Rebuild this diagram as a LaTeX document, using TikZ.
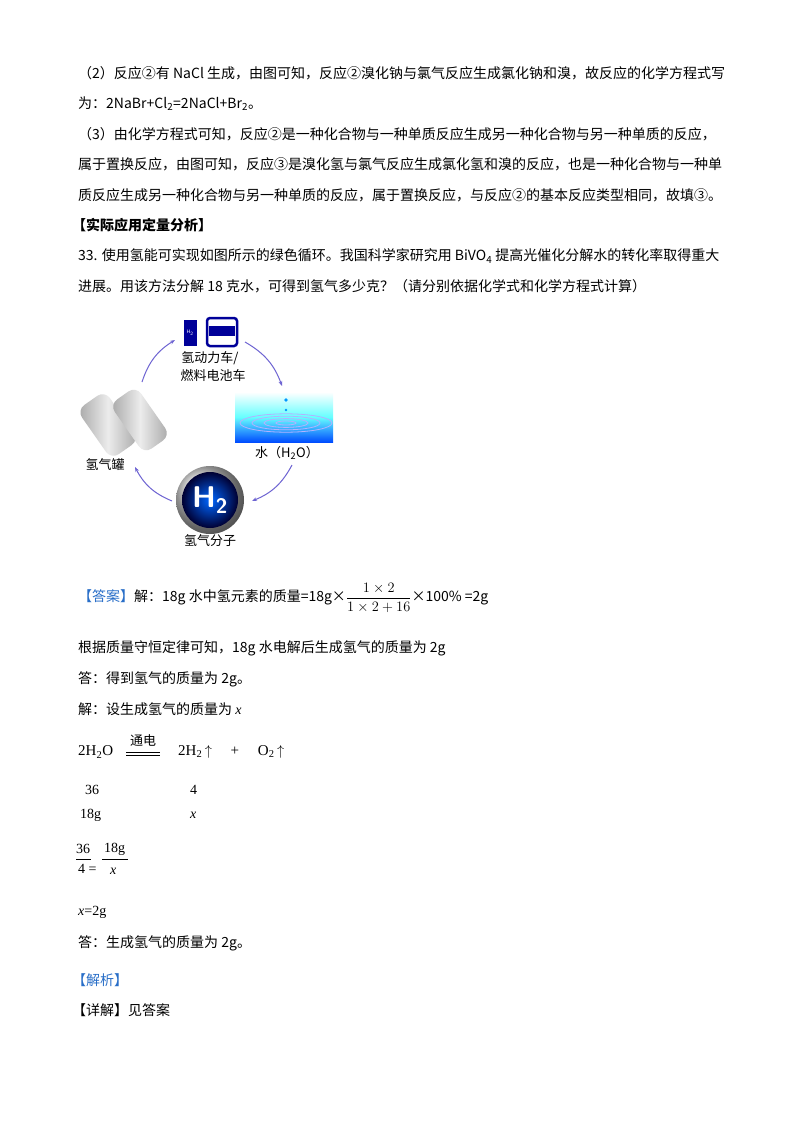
\documentclass[tikz,border=0pt]{standalone}
\usepackage{fontspec}
\setmainfont{Liberation Serif}
\newfontfamily\cjk{Noto Sans CJK SC}
\newfontfamily\cjks{Noto Sans CJK SC}
\usetikzlibrary{arrows.meta}
\definecolor{ansblue}{RGB}{40,110,200}
\definecolor{arc}{RGB}{110,100,210}
\tikzset{
 line/.style={anchor=west,inner sep=0pt,font=\fontsize{14}{14}\selectfont\cjk},
 lbl/.style={inner sep=0pt,font=\fontsize{13}{13}\selectfont\cjks},
 cyc/.style={draw=arc,line width=1pt,-{Stealth[length=5pt]}},
}
\begin{document}
\begin{tikzpicture}[x=1pt,y=-1pt]
\useasboundingbox (0,0) rectangle (800,1132);
\fill[white] (0,0) rectangle (800,1132);
\node[line] (l1) at (78,73) {（2）反应②有 NaCl 生成，由图可知，反应②溴化钠与氯气反应生成氯化钠和溴，故反应的化学方程式写};
\node[line] (l2) at (78,104) {为：2NaBr+Cl\textsubscript{2}=2NaCl+Br\textsubscript{2}。};
\node[line] (l3) at (78,134) {（3）由化学方程式可知，反应②是一种化合物与一种单质反应生成另一种化合物与另一种单质的反应，};
\node[line] (l4) at (78,164) {属于置换反应，由图可知，反应③是溴化氢与氯气反应生成氯化氢和溴的反应，也是一种化合物与一种单};
\node[line] (l5) at (78,195) {质反应生成另一种化合物与另一种单质的反应，属于置换反应，与反应②的基本反应类型相同，故填③。};
\node[line,font=\fontsize{14}{14}\selectfont\cjk\bfseries] (h) at (72,225) {【实际应用定量分析】};
\node[line] (q1) at (78,256) {33. 使用氢能可实现如图所示的绿色循环。我国科学家研究用 BiVO\textsubscript{4} 提高光催化分解水的转化率取得重大};
\node[line] (q2) at (78,286) {进展。用该方法分解 18 克水，可得到氢气多少克？（请分别依据化学式和化学方程式计算）};
% figure
\node[fill=blue!60!black,minimum width=13pt,minimum height=26pt,inner sep=0pt,text=white,font=\tiny\sffamily] (pump) at (190,333) {H\textsubscript{2}};
\node[draw=blue!60!black,fill=white,line width=2.5pt,rounded corners=3pt,minimum width=30pt,minimum height=28pt] (bus) at (222,332) {};
\fill[blue!60!black] (209,326) rectangle (235,336);
\node[lbl] (t1) at (210,358) {氢动力车/};
\node[lbl] (t2) at (213,376) {燃料电池车};
\shade[top color=white,bottom color=blue!70!cyan,middle color=cyan!60] (235,392) rectangle (333,442);
\node[inner sep=0pt,minimum width=98pt,minimum height=50pt] (water) at (284,417) {};
\foreach \r in {10,22,34,46}{\draw[white!70!blue,line width=0.8pt] (286,423) ellipse [x radius=\r, y radius=\r/5];}
\fill[blue!40!cyan] (286,400) circle (1.8pt) (286,410) circle (1.4pt);
\node[lbl] (t3) at (287,453) {水（H\textsubscript{2}O）};
\shade[left color=gray!70,right color=gray!70,middle color=gray!15,rounded corners=9pt,rotate around={35:(108,425)}] (91,395) rectangle (125,455);
\shade[left color=gray!70,right color=gray!70,middle color=gray!15,rounded corners=9pt,rotate around={35:(140,420)}] (124,390) rectangle (156,450);
\node[inner sep=0pt,minimum width=80pt,minimum height=60pt] (tank) at (125,422) {};
\node[lbl] (t4) at (105,465) {氢气罐};
\shade[ball color=gray!40] (210,500) circle (34pt);
\shade[inner color=blue!60!cyan,outer color=black!80!blue] (210,500) circle (28pt);
\node[text=white,font=\fontsize{30}{30}\selectfont\sffamily\bfseries,inner sep=0pt] (h2) at (210,500) {H\textsubscript{2}};
\node[lbl] (t5) at (210,541) {氢气分子};
\draw[cyc] (142,382) to[bend left=20] (175,340);
\draw[cyc] (245,342) to[bend left=20] (282,386);
\draw[cyc] (292,465) to[bend left=20] (252,501);
\draw[cyc] (172,501) to[bend left=20] (135,467);
% answer
\node[line] (a1) at (78,598) {\textcolor{ansblue}{【答案】}解：18g 水中氢元素的质量=18g×$\displaystyle\frac{1\times2}{1\times2+16}$×100\% =2g};
\node[line] (a2) at (78,648) {根据质量守恒定律可知，18g 水电解后生成氢气的质量为 2g};
\node[line] (a3) at (78,679) {答：得到氢气的质量为 2g。};
\node[line] (a4) at (78,709) {解：设生成氢气的质量为 {\rmfamily\itshape x}};
\node[line,font=\fontsize{15}{15}\selectfont\rmfamily] (e1) at (78,752) {2H\textsubscript{2}O};
\node[inner sep=0pt,font=\fontsize{13}{13}\selectfont\cjk] (e2) at (143,740) {通电};
\draw[line width=0.5pt] (126,752) -- (160,752) (126,755) -- (160,755);
\node[line,font=\fontsize{15}{15}\selectfont\rmfamily] (e3) at (178,752) {2H\textsubscript{2}\,$\uparrow$\quad\ +\quad\ O\textsubscript{2}\,$\uparrow$};
\node[line,font=\fontsize{14}{14}\selectfont\rmfamily] (n1) at (85,790) {36};
\node[line,font=\fontsize{14}{14}\selectfont\rmfamily] (n2) at (190,790) {4};
\node[line,font=\fontsize{14}{14}\selectfont\rmfamily] (n3) at (80,815) {18g};
\node[line,font=\fontsize{14}{14}\selectfont\rmfamily] (n4) at (190,815) {\textit{x}};
\node[line,font=\fontsize{14}{14}\selectfont\rmfamily] (f1) at (76,849) {36};
\draw (76,859) -- (91,859);
\node[line,font=\fontsize{14}{14}\selectfont\rmfamily] (f2) at (78,869) {4 =};
\node[line,font=\fontsize{14}{14}\selectfont\rmfamily] (f3) at (104,849) {18g};
\draw (102,859) -- (128,859);
\node[line,font=\fontsize{14}{14}\selectfont\rmfamily] (f4) at (110,871) {\textit{x}};
\node[line,font=\fontsize{14}{14}\selectfont\rmfamily] (r) at (78,912) {\textit{x}=2g};
\node[line] (a5) at (78,943) {答：生成氢气的质量为 2g。};
\node[line,text=ansblue] (a6) at (72,980) {【解析】};
\node[line] (a7) at (72,1010) {【详解】见答案};
\end{tikzpicture}
\end{document}
